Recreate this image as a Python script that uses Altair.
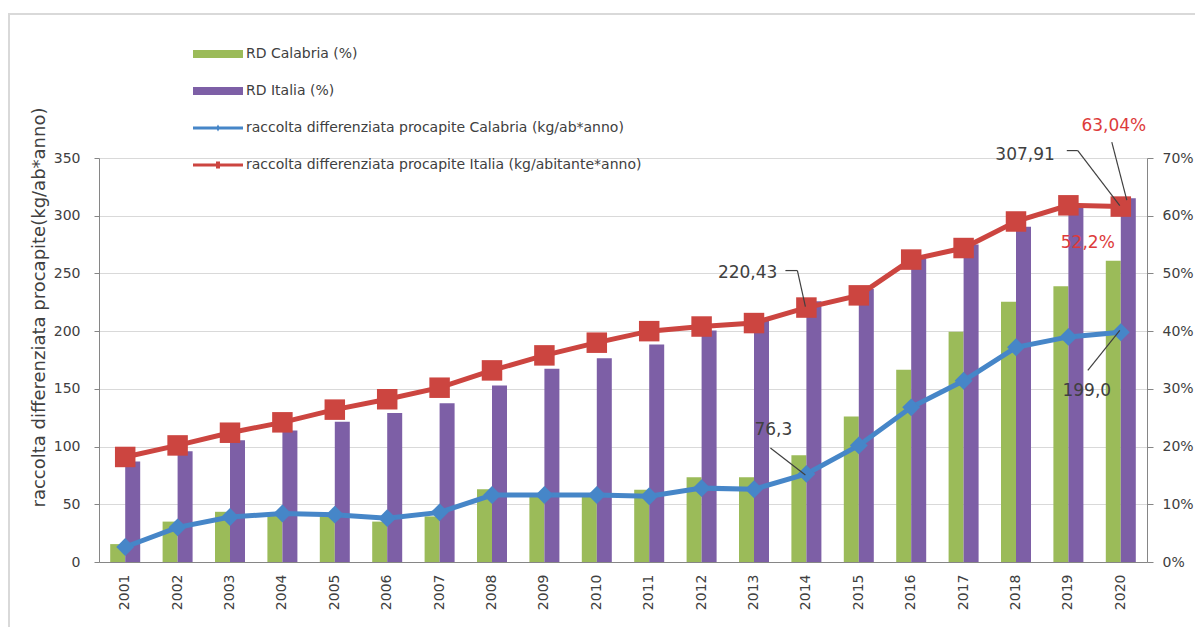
import altair as alt
import pandas as pd

years = [str(y) for y in range(2001, 2021)]
rd_calabria_pct = [3.1, 7.0, 8.7, 8.0, 8.1, 7.0, 7.9, 12.6, 11.5, 11.3, 12.5, 14.7, 14.7, 18.5, 25.2, 33.3, 39.9, 45.1, 47.8, 52.2]
rd_italia_pct = [17.4, 19.2, 21.1, 22.8, 24.3, 25.8, 27.5, 30.6, 33.5, 35.3, 37.7, 40.1, 42.3, 45.2, 47.3, 52.6, 55.0, 58.1, 61.5, 63.04]
rd_calabria_kg = [13, 30, 39, 42, 41, 38, 43, 58, 58, 58, 57, 64, 63, 76.3, 101, 134, 157, 186, 195, 199.0]
rd_italia_kg = [91, 101, 112, 121, 132, 141, 151, 166, 179, 190, 200, 204, 207, 220.43, 231, 262, 272, 295, 309, 307.91]

series = [
    "RD Calabria (%)",
    "RD Italia (%)",
    "raccolta differenziata procapite Calabria (kg/ab*anno)",
    "raccolta differenziata procapite Italia (kg/abitante*anno)",
]
GREEN, PURPLE, BLUE, RED = "#9bbb59", "#7d5fa6", "#4686c8", "#cc4540"
TXT = "#404040"
FONT = "DejaVu Sans"

df = pd.DataFrame({
    "year": years,
    "cal_pct": rd_calabria_pct,
    "ita_pct": rd_italia_pct,
    "cal_kg": rd_calabria_kg,
    "ita_kg": rd_italia_kg,
})

xs = alt.Scale(domain=years, paddingInner=0, paddingOuter=0)
ys_pct = alt.Scale(domain=[0, 70], nice=False, zero=True)
ys_kg = alt.Scale(domain=[0, 350], nice=False, zero=True)

x_axis = alt.Axis(labelAngle=270, labelAlign="right", labelBaseline="middle", ticks=False,
                  domainColor="#868686", labelFontSize=14, labelColor=TXT,
                  labelPadding=12, title=None, labelFont=FONT)
X = alt.X("year:N", scale=xs, axis=x_axis)

base = alt.Chart(df)

green_bar = base.mark_bar(color=GREEN, width=15, xOffset=-7.5).encode(
    x=X,
    y=alt.Y("cal_pct:Q", scale=ys_pct, axis=alt.Axis(
        orient="right", values=list(range(0, 71, 10)), labelExpr="datum.value + '%'",
        grid=False, domainColor="#868686", tickColor="#868686", tickSize=6,
        labelPadding=9, labelFontSize=14, labelColor=TXT, title=None, labelFont=FONT)),
)
purple_bar = base.mark_bar(color=PURPLE, width=15, xOffset=7.5).encode(
    x=X,
    y=alt.Y("ita_pct:Q", scale=ys_pct, axis=None),
)

blue_line = base.mark_line(color=BLUE, strokeWidth=5).encode(
    x=X,
    y=alt.Y("cal_kg:Q", scale=ys_kg, axis=alt.Axis(
        orient="left", values=list(range(0, 351, 50)), grid=True, gridColor="#d9d9d9",
        domainColor="#868686", tickColor="#868686", tickSize=5, labelPadding=14,
        labelFontSize=14, labelColor=TXT, labelFont=FONT,
        title="raccolta differenziata procapite(kg/ab*anno)", titleFont=FONT,
        titleFontSize=18, titleFontWeight="normal", titleColor=TXT,
        titleX=-60, titleY=149, titleAngle=270, titleAlign="center", titleBaseline="middle")),
)
blue_pts = base.mark_point(shape="diamond", filled=True, size=320, color=BLUE, opacity=1).encode(
    x=X,
    y=alt.Y("cal_kg:Q", scale=ys_kg, axis=None),
)
red_line = base.mark_line(color=RED, strokeWidth=5).encode(
    x=X,
    y=alt.Y("ita_kg:Q", scale=ys_kg, axis=None),
)
red_pts = base.mark_square(size=420, color=RED, opacity=1).encode(
    x=X,
    y=alt.Y("ita_kg:Q", scale=ys_kg, axis=None),
)


def note(year, value, label, color, dx, dy, align, segs, yscale):
    d = pd.DataFrame({"year": [year], "value": [value], "label": [label]})
    b = alt.Chart(d).encode(
        x=X,
        y=alt.Y("value:Q", scale=yscale, axis=None),
    )
    out = [b.mark_text(dx=dx, dy=dy, align=align, baseline="middle", fontSize=17,
                       color=color, font=FONT).encode(text="label:N")]
    for (x1, y1, x2, y2) in segs:
        out.append(b.mark_rule(color=TXT, strokeWidth=1.2, xOffset=x1, yOffset=y1,
                               x2Offset=x2, y2Offset=y2).encode(x2="year:N", y2="value:Q"))
    return out


notes = []
notes += note("2020", rd_italia_pct[19], "63,04%", "#dd3b3b", -7, -72, "center",
              [(-9, -56, 6, 2)], ys_pct)
notes += note("2020", rd_calabria_pct[19], "52,2%", "#dd3b3b", -33, -18, "center", [], ys_pct)
notes += note("2014", rd_italia_kg[13], "220,43", TXT, -29, -35, "right",
              [(-21, -37, -9, -37), (-9, -37, -1, -1)], ys_kg)
notes += note("2020", rd_italia_kg[19], "307,91", TXT, -66, -52, "right",
              [(-54, -56, -43, -56), (-43, -56, -1, -1)], ys_kg)
notes += note("2020", rd_calabria_kg[19], "199,0", TXT, -34, 59, "center",
              [(-33, 38, -1, -2)], ys_kg)
notes += note("2014", rd_calabria_kg[13], "76,3", TXT, -33, -44, "center",
              [(-36, -26, -1, 1)], ys_kg)

# legend symbols (custom paths: bar swatches and line-with-marker swatches)
bar_path = "M-2.5,-0.4H2.5V0.4H-2.5Z"
blue_path = "M-2.5,-0.15H2.5V0.15H-2.5Z M0,-0.35L0.2,0L0,0.35L-0.2,0Z"
red_path = "M-2.5,-0.15H2.5V0.15H-2.5Z M-0.2,-0.35H0.2V0.35H-0.2Z"

leg = alt.Legend(title=None, orient="none", legendX=109, legendY=-114, labelFont=FONT,
                 labelFontSize=14, labelColor=TXT, symbolSize=400, symbolStrokeWidth=0,
                 symbolOpacity=1, labelOffset=18, rowPadding=20, padding=0, labelLimit=0)
legend_df = pd.DataFrame({"serie": series})
legend_layer = alt.Chart(legend_df).mark_point(filled=True, opacity=0).encode(
    x=alt.value(0), y=alt.value(0),
    color=alt.Color("serie:N", scale=alt.Scale(domain=series, range=[GREEN, PURPLE, BLUE, RED]), legend=leg),
    shape=alt.Shape("serie:N", scale=alt.Scale(domain=series, range=[bar_path, bar_path, blue_path, red_path]), legend=leg),
)

# faint chart-area frame (top and left edges visible, as in the original)
frame = alt.Chart(legend_df).mark_rect(fill=None, stroke="#d9d9d9", strokeWidth=1.5).encode(
    x=alt.value(-90), x2=alt.value(1110), y=alt.value(-144), y2=alt.value(490)
)

chart = alt.layer(
    frame, green_bar, purple_bar, blue_line, red_line, blue_pts, red_pts, *notes, legend_layer
).resolve_scale(y="independent").properties(
    width=1048, height=404,
    padding={"left": 91, "top": 150, "right": 48, "bottom": 65},
    autosize=alt.AutoSizeParams(type="none"),
).configure(font=FONT).configure_view(stroke=None)

chart.save("out.html", embed_options={"renderer": "svg", "actions": False})
